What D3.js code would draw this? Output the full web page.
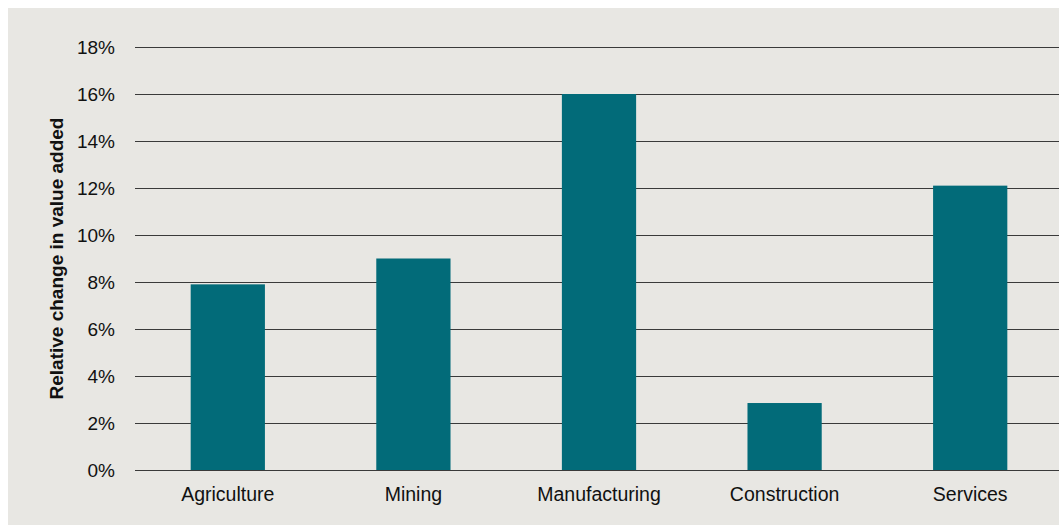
<!DOCTYPE html>
<html>
<head>
<meta charset="utf-8">
<script src="https://cdn.jsdelivr.net/npm/d3@7"></script>
<style>
  html, body { margin: 0; padding: 0; background: #ffffff; }
  svg { display: block; }
  text { font-family: "Liberation Sans", Arial, sans-serif; fill: #111; }
</style>
</head>
<body>
<svg id="chart" width="1059" height="526"></svg>
<script>
// Sectors and their relative change in value added (%)
const sectors = ["Agriculture", "Mining", "Manufacturing", "Construction", "Services"];
const changes = [7.9, 9.0, 16.0, 2.85, 12.1];
const yTicks = [0, 2, 4, 6, 8, 10, 12, 14, 16, 18];
const yTitle = "Relative change in value added";

const W = 1059, H = 526;
const svg = d3.select("#chart");

// panel background
svg.append("rect")
  .attr("x", 8).attr("y", 8)
  .attr("width", W - 8).attr("height", 517)
  .attr("fill", "#e8e7e3");

const plot = { left: 135, right: 1063, top: 47, bottom: 470 };

const x = d3.scaleBand()
  .domain(sectors)
  .range([plot.left, plot.right])
  .paddingInner(0.6)
  .paddingOuter(0.3);

const y = d3.scaleLinear()
  .domain([0, 18])
  .range([plot.bottom, plot.top]);

// horizontal gridlines with percent labels
const yAxis = d3.axisLeft(y)
  .tickValues(yTicks)
  .tickSize(-(W - plot.left))
  .tickPadding(20)
  .tickFormat(d => d + "%");

const gy = svg.append("g")
  .attr("transform", `translate(${plot.left},0)`)
  .call(yAxis);
gy.select(".domain").remove();
gy.selectAll(".tick line")
  .attr("stroke", "#3a3a3a")
  .attr("stroke-width", 1.2);
gy.selectAll(".tick text")
  .attr("font-size", 19)
  .attr("fill", "#111")
  .attr("font-family", "'Liberation Sans', Arial, sans-serif");

// bars
svg.append("g")
  .selectAll("rect")
  .data(sectors.map((s, i) => ({ s, v: changes[i] })))
  .join("rect")
  .attr("x", d => x(d.s))
  .attr("y", d => y(d.v))
  .attr("width", x.bandwidth())
  .attr("height", d => y(0) - y(d.v))
  .attr("fill", "#026b79");

// category labels
const xAxis = d3.axisBottom(x).tickSize(0).tickPadding(17);
const gx = svg.append("g")
  .attr("transform", `translate(0,${plot.bottom})`)
  .call(xAxis);
gx.select(".domain").remove();
gx.selectAll(".tick text")
  .attr("font-size", 19.5)
  .attr("fill", "#111")
  .attr("font-family", "'Liberation Sans', Arial, sans-serif");

// y-axis title
svg.append("text")
  .attr("transform", `translate(63,${(plot.top + plot.bottom) / 2}) rotate(-90)`)
  .attr("text-anchor", "middle")
  .attr("font-size", 19)
  .attr("font-weight", "bold")
  .text(yTitle);
</script>
</body>
</html>
